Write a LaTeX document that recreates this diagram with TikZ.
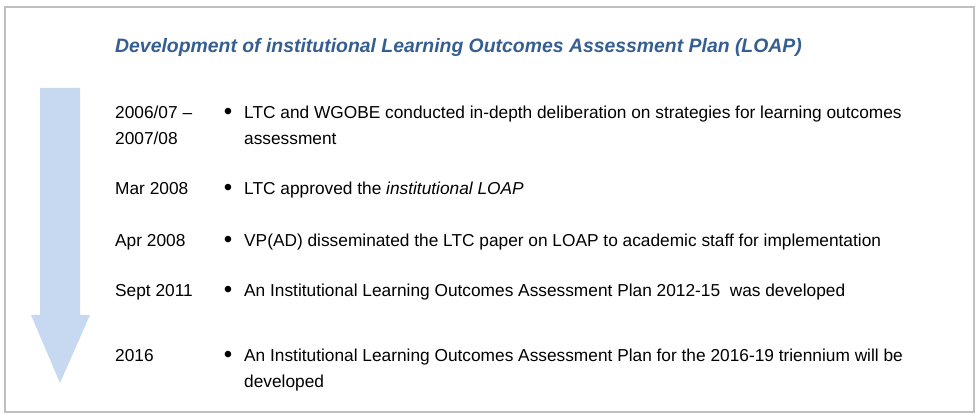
\documentclass[tikz,border=0pt]{standalone}
\usepackage{fontspec}
\setmainfont{Liberation Sans}
\usepackage{tikz}
\usetikzlibrary{calc}
\usepackage{xcolor}
\definecolor{loapblue}{HTML}{C6D9F1}
\definecolor{titleblue}{HTML}{365F91}
\definecolor{framegray}{HTML}{BFBFBF}
\tikzset{
  yr/.style={anchor=base west, inner sep=0pt, align=left, font=\fontsize{17.3}{26}\selectfont},
  itm/.style={anchor=base west, inner sep=0pt, align=left, font=\fontsize{17.3}{26}\selectfont},
  blt/.style={anchor=base, inner sep=0pt, font=\fontsize{24}{26}\selectfont},
}

\begin{document}
\begin{tikzpicture}[x=1pt,y=-1pt]
\useasboundingbox (0,0) rectangle (979,419);
\draw [framegray, line width=2pt] (5,7) rectangle (974,412);
\fill [loapblue] (40,88) -- (80,88) -- (80,315) -- (90,315) -- (60,383) -- (31,315) -- (40,315) -- cycle;
\node [anchor=base west, inner sep=0pt, titleblue, font=\fontsize{19.4}{22}\selectfont\bfseries\itshape] (title) at (115,53) {Development of institutional Learning Outcomes Assessment Plan (LOAP)};
% multi-line nodes sit on the baseline of their last line
\node [yr] (y1) at (115,145) {2006/07 --\\2007/08};
\node [yr] (y2) at (115,195) {Mar 2008};
\node [yr] (y3) at (115,247) {Apr 2008};
\node [yr] (y4) at (115,297) {Sept 2011};
\node [yr] (y5) at (115,361) {2016};
\foreach \i/\y in {1/120,2/196,3/248,4/298,5/362}
  \node [blt] (b\i) at (228,\y) {\textbullet};
\node [itm] (t1) at (244,145) {LTC and WGOBE conducted in-depth deliberation on strategies for learning outcomes\\assessment};
\node [itm] (t2) at (244,195) {LTC approved the \textit{institutional LOAP}};
\node [itm] (t3) at (244,247) {VP(AD) disseminated the LTC paper on LOAP to academic staff for implementation};
\node [itm] (t4) at (244,297) {An Institutional Learning Outcomes Assessment Plan 2012-15\ \ was developed};
\node [itm] (t5) at (244,387) {An Institutional Learning Outcomes Assessment Plan for the 2016-19 triennium will be\\developed};
\end{tikzpicture}
\end{document}
